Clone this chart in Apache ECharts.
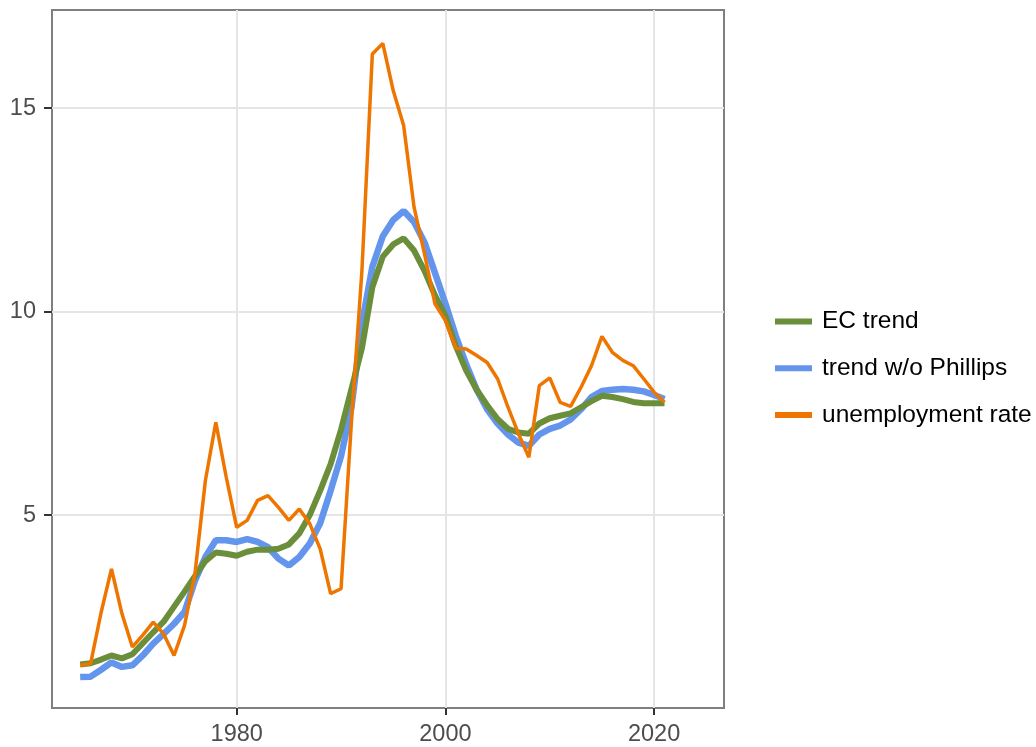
<!DOCTYPE html>
<html>
<head>
<meta charset="utf-8">
<script src="https://cdn.jsdelivr.net/npm/echarts@6/dist/echarts.min.js"></script>
<style>
html,body{margin:0;padding:0;background:#fff;}
#chart{width:1036px;height:747px;}
</style>
</head>
<body>
<div id="chart"></div>
<script>
const years = [1965,1966,1967,1968,1969,1970,1971,1972,1973,1974,1975,1976,1977,1978,1979,
  1980,1981,1982,1983,1984,1985,1986,1987,1988,1989,1990,1991,1992,1993,1994,1995,1996,1997,1998,1999,
  2000,2001,2002,2003,2004,2005,2006,2007,2008,2009,2010,2011,2012,2013,2014,2015,2016,2017,2018,2019,2020,2021];

const ecTrend = [1.33,1.36,1.45,1.55,1.48,1.58,1.85,2.12,2.38,2.75,3.12,3.5,3.87,4.08,4.05,
  4.0,4.1,4.15,4.15,4.17,4.28,4.55,5.0,5.6,6.25,7.1,8.1,9.1,10.6,11.35,11.65,11.8,11.5,11.0,10.4,
  9.9,9.15,8.55,8.08,7.7,7.36,7.12,7.03,7.0,7.25,7.38,7.44,7.5,7.65,7.8,7.93,7.9,7.85,7.78,7.75,7.75,7.75];

const trendNoPhillips = [1.02,1.03,1.2,1.38,1.27,1.31,1.55,1.84,2.08,2.33,2.62,3.39,3.97,4.38,4.38,
  4.34,4.41,4.34,4.21,3.93,3.76,3.97,4.3,4.8,5.6,6.45,7.65,9.7,11.1,11.85,12.25,12.47,12.2,11.7,10.95,
  10.2,9.4,8.7,8.08,7.6,7.25,6.98,6.78,6.7,6.98,7.12,7.2,7.35,7.6,7.9,8.05,8.08,8.1,8.08,8.04,7.95,7.85];

const unemployment = [1.31,1.35,2.6,3.68,2.58,1.76,2.05,2.37,2.08,1.55,2.29,3.56,5.85,7.28,5.93,
  4.7,4.87,5.36,5.48,5.19,4.87,5.15,4.79,4.17,3.07,3.19,7.3,11.0,16.33,16.59,15.43,14.57,12.56,11.42,10.19,
  9.78,9.1,9.08,8.92,8.75,8.35,7.65,7.0,6.42,8.18,8.37,7.77,7.67,8.14,8.67,9.39,9.0,8.8,8.67,8.35,8.02,7.77];

const xTicks = [1980, 2000, 2020];
const yTicks = [5, 10, 15];
const seriesNames = ['EC trend', 'trend w/o Phillips', 'unemployment rate'];

const pairs = arr => years.map((y, i) => [y, arr[i]]);

const font = "'Liberation Sans', Arial, sans-serif";
const chart = echarts.init(document.getElementById('chart'), null, {renderer: 'canvas'});
chart.setOption({
  animation: false,
  backgroundColor: '#ffffff',
  grid: {left: 52, right: 312, top: 10, bottom: 39, show: true, borderColor: '#7f7f7f', borderWidth: 2, backgroundColor: 'transparent'},
  xAxis: {
    type: 'value', min: 1962.3, max: 2026.7,
    axisLine: {show: false},
    axisTick: {show: true, customValues: xTicks, length: 7, lineStyle: {color: '#333333', width: 2}},
    axisLabel: {customValues: xTicks, color: '#4d4d4d', fontSize: 23.5, fontFamily: font, margin: 15,
      formatter: v => String(v)},
    splitLine: {show: true, lineStyle: {color: '#e5e5e5', width: 2}}
  },
  yAxis: {
    type: 'value', min: 0.26, max: 17.41,
    axisLine: {show: false},
    axisTick: {show: true, customValues: yTicks, length: 8, lineStyle: {color: '#333333', width: 2}},
    axisLabel: {customValues: yTicks, color: '#4d4d4d', fontSize: 23.5, fontFamily: font, margin: 16,
      formatter: v => String(v)},
    splitLine: {show: true, lineStyle: {color: '#e5e5e5', width: 2}}
  },
  legend: {
    orient: 'vertical', left: 775, top: 308, padding: 0,
    data: seriesNames,
    icon: 'rect', itemWidth: 37, itemHeight: 6, itemGap: 19.7,
    textStyle: {fontSize: 24.5, fontFamily: font, color: '#000', lineHeight: 27, padding: [0,0,0,5]}
  },
  series: [
    {name: seriesNames[0], type: 'line', data: pairs(ecTrend), showSymbol: false, z: 3,
     color: '#6B8E3A', lineStyle: {width: 6, color: '#6B8E3A'}},
    {name: seriesNames[1], type: 'line', data: pairs(trendNoPhillips), showSymbol: false, z: 2,
     color: '#6495ED', lineStyle: {width: 6.5, color: '#6495ED'}},
    {name: seriesNames[2], type: 'line', data: pairs(unemployment), showSymbol: false, z: 4,
     color: '#EE7600', lineStyle: {width: 3.5, color: '#EE7600'}}
  ]
});
</script>
</body>
</html>
